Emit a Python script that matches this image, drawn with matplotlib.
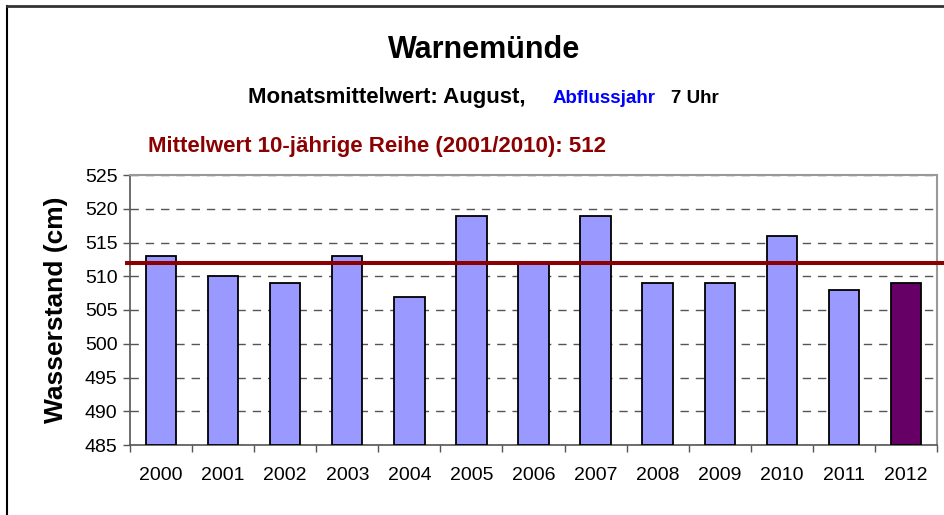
import matplotlib
matplotlib.use('Agg')
import matplotlib.pyplot as plt
from matplotlib.lines import Line2D
import numpy as np

# data
years = ['2000', '2001', '2002', '2003', '2004', '2005', '2006',
         '2007', '2008', '2009', '2010', '2011', '2012']
water_level = [513, 510, 509, 513, 507, 519, 512, 519, 509, 509, 516, 508, 509]
mean_10y = 512
y_ticks = [485, 490, 495, 500, 505, 510, 515, 520, 525]

plt.rcParams['font.family'] = ['Liberation Sans', 'DejaVu Sans']

W, H = 944, 515
fig = plt.figure(figsize=(W / 100, H / 100), dpi=100)
ax = fig.add_axes([130 / W, 1 - 445 / H, 807 / W, 270 / H])
ax.set_axisbelow(True)

colors = ['#9999ff'] * (len(years) - 1) + ['#660066']
x = np.arange(len(years))
ax.bar(x, [v - y_ticks[0] for v in water_level], bottom=y_ticks[0], width=0.49,
       color=colors, edgecolor='black', linewidth=1.3, zorder=3)

# 10-year mean line, slightly past the plot area like the original
ax.axhline(mean_10y, xmin=-0.004, xmax=1.01, color='#8b0000', linewidth=2.9,
           clip_on=False, zorder=4)

ax.set_xlim(-0.5, len(years) - 0.5)
ax.set_ylim(y_ticks[0], y_ticks[-1])
ax.set_yticks(y_ticks)
ax.yaxis.grid(True, linestyle=(0, (6, 5)), color='#555555', linewidth=1.0)
ax.set_xticks(x)
ax.set_xticklabels(years)
ax.set_xticks(np.arange(len(years) + 1) - 0.5, minor=True)
ax.tick_params(axis='x', which='major', length=0, pad=16, labelsize=14)
ax.tick_params(axis='x', which='minor', length=5, width=1, color='#555555', direction='out')
ax.tick_params(axis='y', length=5, width=1, color='#555555', labelsize=14, pad=4)

for side in ['left', 'bottom']:
    ax.spines[side].set_color('#555555')
    ax.spines[side].set_linewidth(1.2)
for side in ['top', 'right']:
    ax.spines[side].set_color('#999999')
    ax.spines[side].set_linewidth(1.5)

ax.set_ylabel('Wasserstand (cm)', fontsize=19, fontweight='bold', labelpad=12)

# titles
fig.text(484 / W, 1 - 58 / H, 'Warnemünde', fontsize=22, fontweight='bold',
         ha='center', va='baseline')
fig.text(248 / W, 1 - 103 / H, 'Monatsmittelwert: August,', fontsize=16,
         fontweight='bold', ha='left', va='baseline')
fig.text(553 / W, 1 - 103 / H, 'Abflussjahr', fontsize=13.5, fontweight='bold',
         color='#0000ff', ha='left', va='baseline')
fig.text(671 / W, 1 - 103 / H, '7 Uhr', fontsize=13.5, fontweight='bold',
         ha='left', va='baseline')
fig.text(148 / W, 1 - 152 / H, 'Mittelwert 10-jährige Reihe (2001/2010): 512',
         fontsize=16, fontweight='bold', color='#8b0000', ha='left', va='baseline')

# outer frame (left and top edges visible)
fig.add_artist(Line2D([7 / W, 7 / W], [0, 1 - 6 / H], color='black', linewidth=1.5))
fig.add_artist(Line2D([7 / W, 1], [1 - 6 / H, 1 - 6 / H], color='#333333', linewidth=2))

fig.savefig('out.png', dpi=100)
